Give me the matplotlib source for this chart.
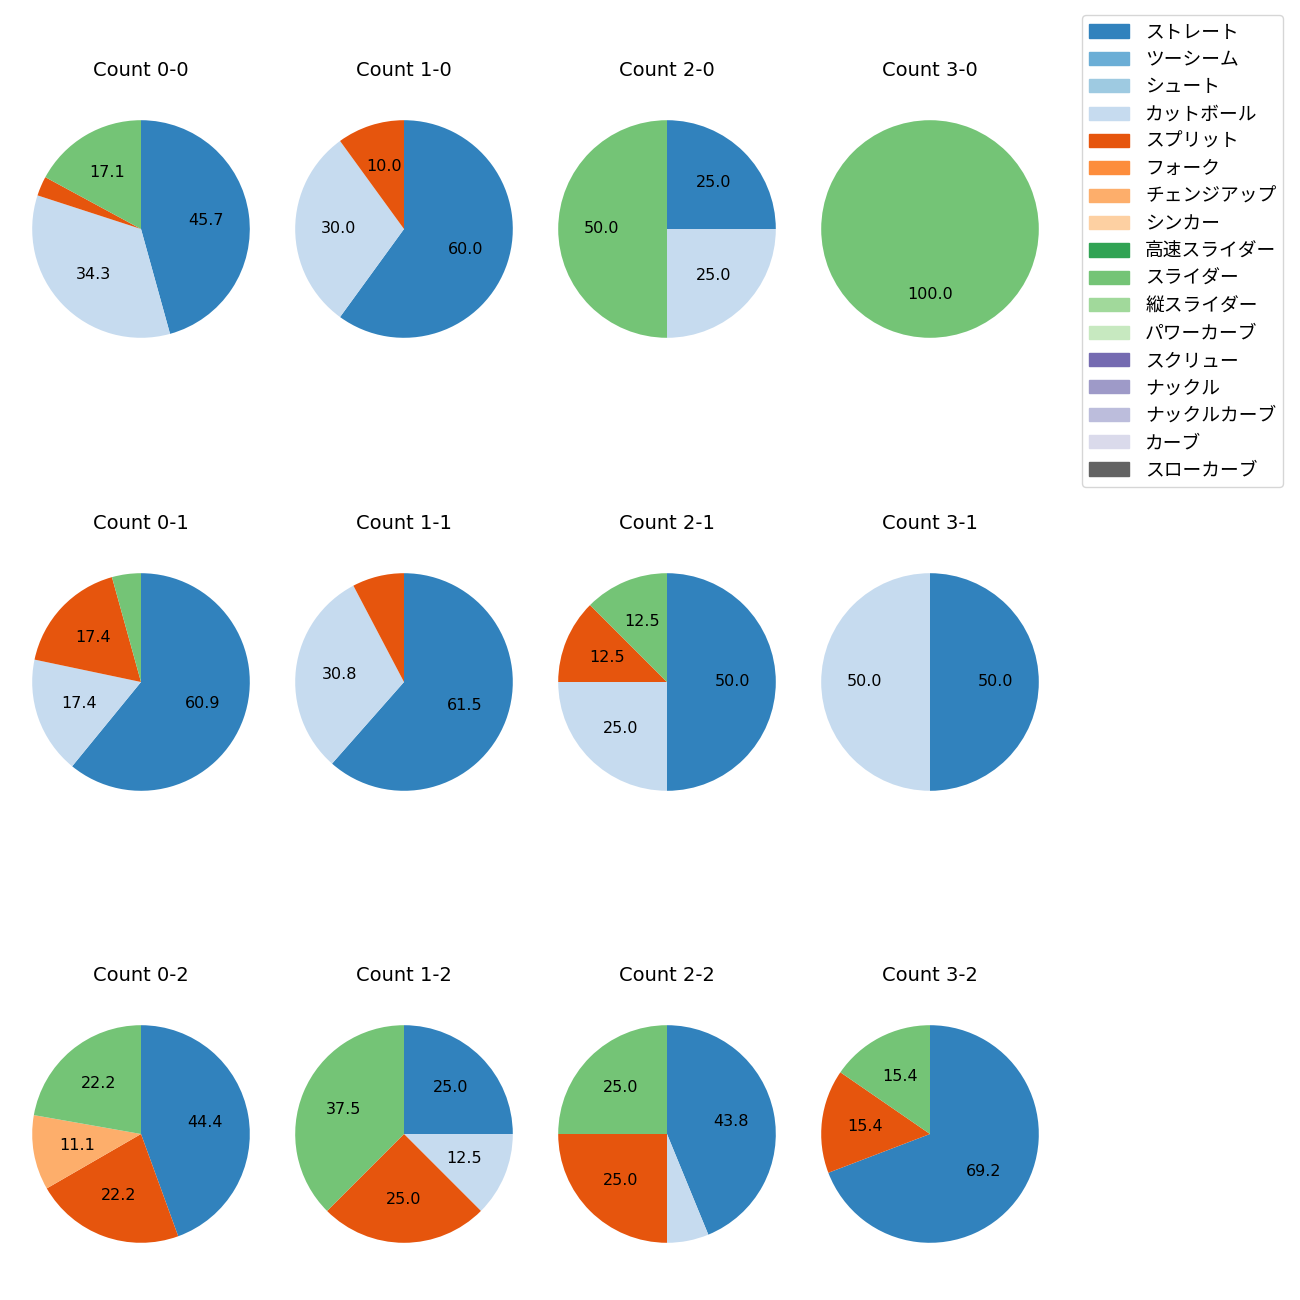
import matplotlib
matplotlib.use("Agg")
import matplotlib.pyplot as plt
from matplotlib.patches import Patch

plt.rcParams['font.family'] = ['Noto Sans CJK JP', 'DejaVu Sans']

# -------- DATA --------
pitch_types = ["ストレート", "ツーシーム", "シュート", "カットボール", "スプリット", "フォーク",
               "チェンジアップ", "シンカー", "高速スライダー", "スライダー", "縦スライダー",
               "パワーカーブ", "スクリュー", "ナックル", "ナックルカーブ", "カーブ", "スローカーブ"]

counts = ["0-0", "1-0", "2-0", "3-0",
          "0-1", "1-1", "2-1", "3-1",
          "0-2", "1-2", "2-2", "3-2"]

# share (%) per count, in pitch_types order (only non-zero entries)
count_0_0 = {"ストレート": 45.7, "カットボール": 34.3, "スプリット": 2.9, "スライダー": 17.1}
count_1_0 = {"ストレート": 60.0, "カットボール": 30.0, "スプリット": 10.0}
count_2_0 = {"ストレート": 25.0, "カットボール": 25.0, "スライダー": 50.0}
count_3_0 = {"スライダー": 100.0}
count_0_1 = {"ストレート": 60.9, "カットボール": 17.4, "スプリット": 17.4, "スライダー": 4.3}
count_1_1 = {"ストレート": 61.5, "カットボール": 30.8, "スプリット": 7.7}
count_2_1 = {"ストレート": 50.0, "カットボール": 25.0, "スプリット": 12.5, "スライダー": 12.5}
count_3_1 = {"ストレート": 50.0, "カットボール": 50.0}
count_0_2 = {"ストレート": 44.4, "スプリット": 22.2, "チェンジアップ": 11.1, "スライダー": 22.2}
count_1_2 = {"ストレート": 25.0, "カットボール": 12.5, "スプリット": 25.0, "スライダー": 37.5}
count_2_2 = {"ストレート": 43.8, "カットボール": 6.2, "スプリット": 25.0, "スライダー": 25.0}
count_3_2 = {"ストレート": 69.2, "スプリット": 15.4, "スライダー": 15.4}

shares = [count_0_0, count_1_0, count_2_0, count_3_0,
          count_0_1, count_1_1, count_2_1, count_3_1,
          count_0_2, count_1_2, count_2_2, count_3_2]

cmap = plt.get_cmap("tab20c")
colors = {p: cmap(i) for i, p in enumerate(pitch_types)}


def fmt(p):
    return f"{p:.1f}" if p >= 10 else ""


# -------- PLOT --------
fig = plt.figure(figsize=(13, 13), dpi=100)

col_x = [141, 404, 667, 930]
row_y = [229, 682, 1134]
size = 272

for i, (c, data) in enumerate(zip(counts, shares)):
    r, k = divmod(i, 4)
    cx, cy = col_x[k], row_y[r]
    ax = fig.add_axes([(cx - size / 2) / 1300, 1 - (cy + size / 2) / 1300,
                       size / 1300, size / 1300])
    labels = [p for p in pitch_types if p in data]
    vals = [data[p] for p in labels]
    ax.pie(vals, colors=[colors[p] for p in labels], startangle=90,
           counterclock=False, autopct=fmt,
           textprops={'fontsize': 11.5, 'family': 'DejaVu Sans'})
    ax.set_title(f"Count {c}", fontsize=14, family='DejaVu Sans', pad=12)

handles = [Patch(color=colors[p]) for p in pitch_types]
fig.legend(handles, pitch_types, loc="upper right",
           bbox_to_anchor=(1283 / 1300, 1 - 15 / 1300), borderaxespad=0,
           fontsize=13.5, labelspacing=0.34, handletextpad=0.85,
           handlelength=2.15, borderpad=0.35)

fig.savefig("out.png")
